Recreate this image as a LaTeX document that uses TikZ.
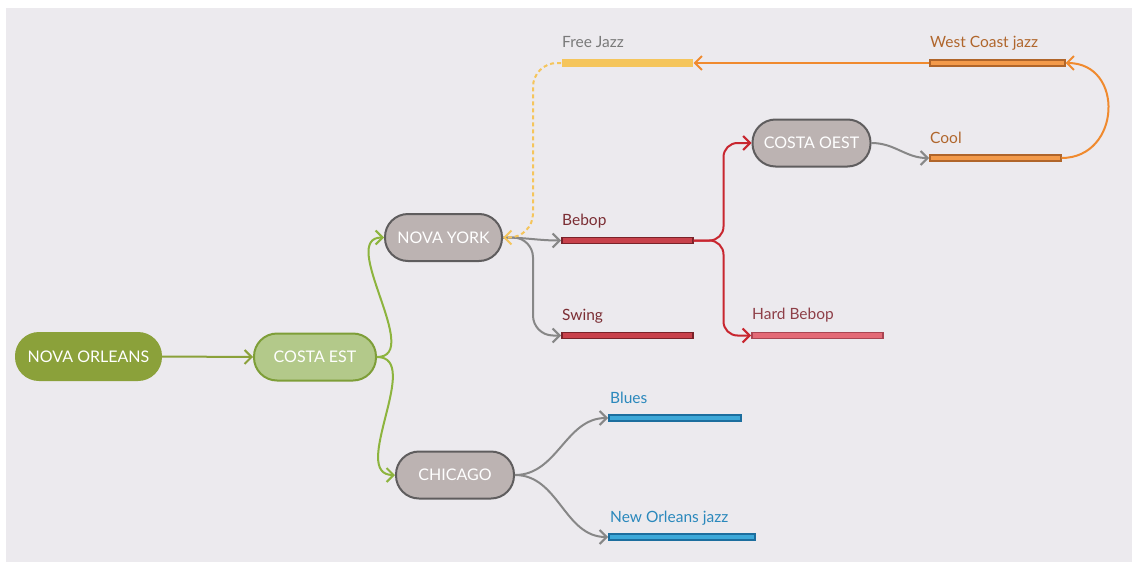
\documentclass[tikz,border=0pt]{standalone}
\usepackage{fontspec}
\setmainfont{Lato}
\usepackage{xcolor}
\usepackage{tikz}
\usetikzlibrary{arrows.meta}

\definecolor{bgc}{HTML}{ECEAEE}
\definecolor{olivec}{HTML}{8BA13A}
\definecolor{greenc}{HTML}{8DB43E}
\definecolor{estfill}{HTML}{B3C98A}
\definecolor{estline}{HTML}{7E9E38}
\definecolor{cityfill}{HTML}{BCB3B2}
\definecolor{cityline}{HTML}{5F5D5E}
\definecolor{grayc}{HTML}{878787}
\definecolor{redc}{HTML}{C8262F}
\definecolor{redfill}{HTML}{C8414B}
\definecolor{redline}{HTML}{7A2229}
\definecolor{redtxt}{HTML}{7B2D33}
\definecolor{pinkfill}{HTML}{E36A76}
\definecolor{pinkline}{HTML}{A94552}
\definecolor{pinktxt}{HTML}{8E3F48}
\definecolor{orangec}{HTML}{F08A2E}
\definecolor{orfill}{HTML}{F39A4A}
\definecolor{orline}{HTML}{B0652A}
\definecolor{ortxt}{HTML}{B0662C}
\definecolor{yellowc}{HTML}{F5C55B}
\definecolor{greytxt}{HTML}{7A7A7A}
\definecolor{bluefill}{HTML}{3DA8D8}
\definecolor{blueline}{HTML}{1C6E9E}
\definecolor{bluetxt}{HTML}{2A88BC}

\begin{document}
\begin{tikzpicture}[x=1pt,y=-1pt,
  >={Straight Barb[length=7pt,width=14pt]},
  city/.style={draw=cityline,fill=cityfill,line width=2pt,rounded corners=23pt,
    minimum height=47pt,inner sep=0pt,text=white,font=\fontsize{16}{19}\selectfont},
  bar/.style={line width=1.5pt,minimum height=6pt,inner sep=0pt,anchor=west},
  txt/.style={anchor=base west,inner sep=0pt,font=\fontsize{15.5}{18}\selectfont},
  link/.style={line width=2pt,->}]
  \useasboundingbox (0,0) rectangle (1132,562);
  \fill[bgc] (6,8) rectangle (1132,562);

  % cities
  \node[city,draw=olivec,fill=olivec,minimum width=145pt] (norleans) at (88.5,356.5) {NOVA ORLEANS};
  \node[city,draw=estline,fill=estfill,minimum width=122pt] (costaest) at (315,357) {COSTA EST};
  \node[city,minimum width=117pt] (novayork) at (443.5,237.5) {NOVA YORK};
  \node[city,minimum width=118pt] (chicago) at (455,475) {CHICAGO};
  \node[city,minimum width=118pt] (costaoest) at (811.5,143) {COSTA OEST};

  % styles
  \node[bar,draw=redline,fill=redfill,minimum width=131pt] (bebop) at (561,240.5) {};
  \node[bar,draw=redline,fill=redfill,minimum width=131pt] (swing) at (561,335.5) {};
  \node[bar,draw=pinkline,fill=pinkfill,minimum width=131pt] (hardbebop) at (751,335.5) {};
  \node[bar,fill=yellowc,minimum height=8pt,minimum width=131pt] (freejazz) at (561,63) {};
  \node[bar,draw=orline,fill=orfill,minimum width=135pt] (westcoast) at (929,63) {};
  \node[bar,draw=orline,fill=orfill,minimum width=131pt] (cool) at (929,158) {};
  \node[bar,draw=blueline,fill=bluefill,minimum width=132pt] (blues) at (608,418) {};
  \node[bar,draw=blueline,fill=bluefill,minimum width=146pt] (nojazz) at (608,537) {};

  \node[txt,text=redtxt] (bebop-t) at (562,225) {Bebop};
  \node[txt,text=redtxt] (swing-t) at (562,320) {Swing};
  \node[txt,text=pinktxt] (hardbebop-t) at (752,319) {Hard Bebop};
  \node[txt,text=greytxt] (freejazz-t) at (562,47) {Free Jazz};
  \node[txt,text=ortxt] (westcoast-t) at (930,47) {West Coast jazz};
  \node[txt,text=ortxt] (cool-t) at (930,143) {Cool};
  \node[txt,text=bluetxt] (blues-t) at (610,403) {Blues};
  \node[txt,text=bluetxt] (nojazz-t) at (610,522) {New Orleans jazz};

  % links
  \draw[link,olivec] (norleans.east) -- (costaest.west);
  \draw[link,greenc] (costaest.east) to[out=0,in=180] (novayork.west);
  \draw[link,greenc] (costaest.east) to[out=0,in=180] (chicago.west);
  \draw[link,grayc] (novayork.east) to[out=0,in=180] (bebop.west);
  \draw[link,grayc,rounded corners=20pt] (novayork.east) -- ++(30,0) |- (swing.west);
  \draw[link,redc,rounded corners=14pt] (bebop.east) -- ++(30,0) |- (costaoest.west);
  \draw[link,redc,rounded corners=14pt] (bebop.east) -- ++(30,0) |- (hardbebop.west);
  \draw[link,grayc] (costaoest.east) to[out=0,in=180] (cool.west);
  \draw[link,orangec] (cool.east) to[out=0,in=0,looseness=1.6] (westcoast.east);
  \draw[link,orangec] (westcoast.west) -- (freejazz.east);
  \draw[link,yellowc,dash pattern=on 4pt off 3pt,rounded corners=24pt] (freejazz.west) -- ++(-28,0) |- (novayork.east);
  \draw[link,grayc] (chicago.east) to[out=0,in=180] (blues.west);
  \draw[link,grayc] (chicago.east) to[out=0,in=180] (nojazz.west);
\end{tikzpicture}
\end{document}
